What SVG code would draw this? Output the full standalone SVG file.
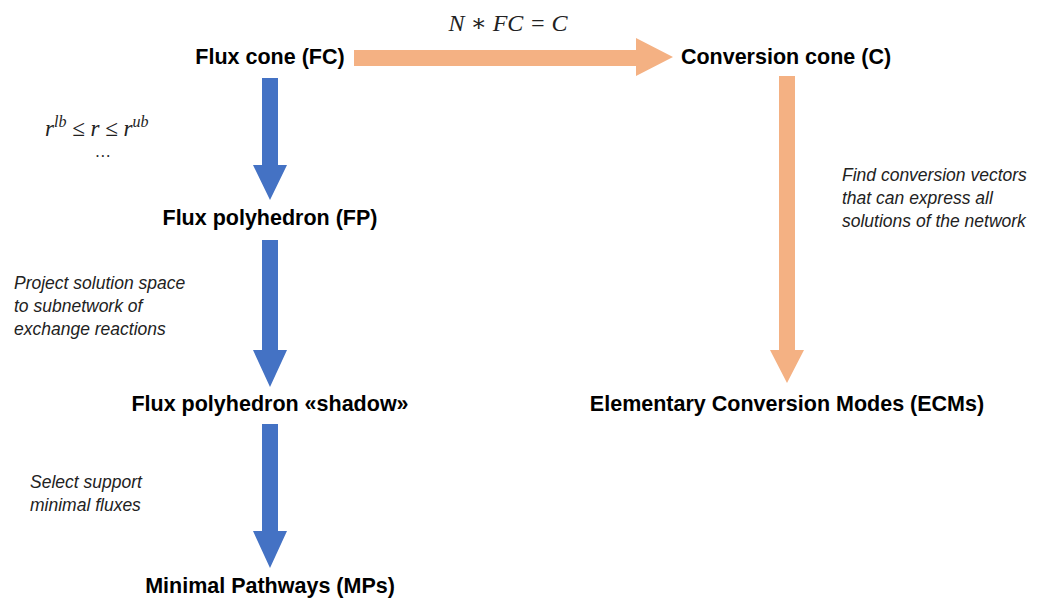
<svg xmlns="http://www.w3.org/2000/svg" width="1038" height="600" viewBox="0 0 1038 600">
<style>
.t{font-family:"Liberation Sans",Arial,sans-serif;font-weight:bold;font-size:21.5px;fill:#000;text-anchor:middle}
.n{font-family:"Liberation Sans",Arial,sans-serif;font-style:italic;font-size:17.5px;fill:#222}
.m{font-family:"Liberation Serif","DejaVu Serif",serif;font-style:italic;fill:#222}
.blue{fill:#4472C4}
.orange{fill:#F4B183}
</style>
<rect width="1038" height="600" fill="#fff"/>
<g id="connectors">
<path class="orange" d="M354,50 H636 V38 L673,57 L636,76 V66 H354 Z"/>
<path class="blue" d="M262,78 H278 V165 H287 L270,200 L253,165 H262 Z"/>
<path class="blue" d="M262,240 H278 V350 H287 L270,387 L253,350 H262 Z"/>
<path class="blue" d="M262,424 H278 V531 H287 L270,568 L253,531 H262 Z"/>
<path class="orange" d="M779,76 H795 V350 H804 L787,383 L770,350 H779 Z"/>
</g>
<g id="lbl-eq"><text class="m" x="508" y="31" font-size="24" text-anchor="middle">N ∗ FC = C</text></g>
<g id="lbl-bounds">
<text class="m" x="45" y="136" font-size="23">r<tspan font-size="16" dy="-9">lb</tspan><tspan dy="9"> ≤ r ≤ r</tspan><tspan font-size="16" dy="-9">ub</tspan></text>
<text class="m" x="103" y="157" font-size="16" text-anchor="middle">…</text>
</g>
<g id="lbl-project">
<text class="n" x="14" y="289">Project solution space</text>
<text class="n" x="14" y="312">to subnetwork of</text>
<text class="n" x="14" y="335">exchange reactions</text>
</g>
<g id="lbl-select">
<text class="n" x="30" y="488">Select support</text>
<text class="n" x="30" y="511">minimal fluxes</text>
</g>
<g id="lbl-find">
<text class="n" x="842" y="181">Find conversion vectors</text>
<text class="n" x="842" y="204">that can express all</text>
<text class="n" x="842" y="227">solutions of the network</text>
</g>
<g id="node-fc"><text class="t" x="270" y="64">Flux cone (FC)</text></g>
<g id="node-c"><text class="t" x="786" y="64">Conversion cone (C)</text></g>
<g id="node-fp"><text class="t" x="270" y="225">Flux polyhedron (FP)</text></g>
<g id="node-shadow"><text class="t" x="270" y="411">Flux polyhedron «shadow»</text></g>
<g id="node-mps"><text class="t" x="270" y="593">Minimal Pathways (MPs)</text></g>
<g id="node-ecms"><text class="t" x="787" y="411">Elementary Conversion Modes (ECMs)</text></g>
</svg>
